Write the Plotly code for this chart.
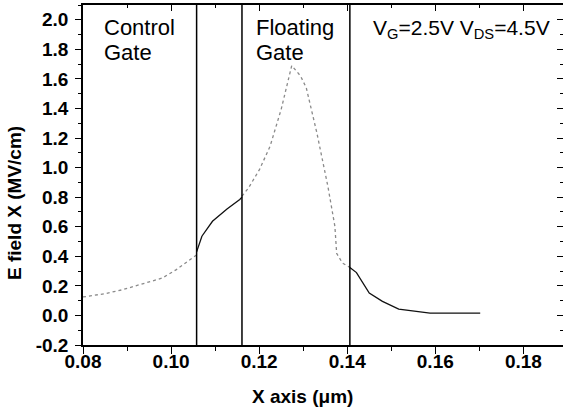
import plotly.graph_objects as go

x_um = [0.0800, 0.0850, 0.0890, 0.0931, 0.0980, 0.1012, 0.1037, 0.1052, 0.1058,
        0.1058, 0.1070, 0.1094, 0.1127, 0.1156, 0.1161,
        0.1161, 0.1176, 0.1201, 0.1225, 0.1250, 0.1274, 0.1294, 0.1307, 0.1331,
        0.1356, 0.1372, 0.1376, 0.1389, 0.1406,
        0.1406, 0.1421, 0.1450, 0.1480, 0.1517, 0.1554, 0.1588, 0.1678, 0.1702]
e_field = [0.125, 0.147, 0.174, 0.208, 0.253, 0.310, 0.366, 0.400, 0.410,
           0.430, 0.536, 0.637, 0.720, 0.784, 0.800,
           0.807, 0.863, 0.988, 1.146, 1.394, 1.690, 1.620, 1.540, 1.236,
           0.875, 0.603, 0.420, 0.355, 0.325,
           0.325, 0.290, 0.151, 0.095, 0.043, 0.027, 0.016, 0.016, 0.016]
segment = [0]*9 + [1]*6 + [2]*14 + [3]*9
boundaries = [0.1058, 0.1161, 0.1406]
seg_styles = {0: ("#8a8a8a", "dot"), 1: ("#111111", "solid"),
              2: ("#8a8a8a", "dot"), 3: ("#111111", "solid")}
x_ticks = [0.08, 0.10, 0.12, 0.14, 0.16, 0.18]
x_ticktext = ["0.08", "0.10", "0.12", "0.14", "0.16", "0.18"]
y_ticks = [-0.2, 0.0, 0.2, 0.4, 0.6, 0.8, 1.0, 1.2, 1.4, 1.6, 1.8, 2.0]
y_ticktext = ["-0.2", "0.0", "0.2", "0.4", "0.6", "0.8", "1.0", "1.2",
              "1.4", "1.6", "1.8", "2.0"]
x_range = [0.08, 0.189]
y_range = [-0.2, 2.1]

W, H, L, R, T, B = 563, 412, 83, 0, 5, 67
pw, ph = W - L - R, H - T - B

fig = go.Figure()
for s in range(4):
    xs = [x for x, g in zip(x_um, segment) if g == s]
    ys = [y for y, g in zip(e_field, segment) if g == s]
    col, dash = seg_styles[s]
    fig.add_trace(go.Scatter(x=xs, y=ys, mode="lines",
                             line=dict(color=col, width=1.3, dash=dash),
                             showlegend=False))

for b in boundaries:
    fig.add_shape(type="line", x0=b, x1=b, y0=0, y1=1, yref="paper",
                  line=dict(color="black", width=1.5))

lab_font = dict(size=22, color="black")
for xv, words in [(0.0843, ["Control", "Gate"]), (0.1188, ["Floating", "Gate"])]:
    fig.add_annotation(x=xv, y=1.945, text=words[0], showarrow=False,
                       xanchor="left", yanchor="middle", font=lab_font)
    fig.add_annotation(x=xv, y=1.776, text=words[1], showarrow=False,
                       xanchor="left", yanchor="middle", font=lab_font)
fig.add_annotation(x=0.1866, y=1.935,
                   text="V<sub>G</sub>=2.5V V<sub>DS</sub>=4.5V", showarrow=False,
                   xanchor="right", yanchor="middle",
                   font=dict(size=21, color="black"))

# axis titles (pixel positions converted to paper coordinates)
fig.add_annotation(x=(302 - L) / pw, y=(H - B - 397) / ph, xref="paper", yref="paper",
                   text="<b>X axis (μm)</b>", showarrow=False,
                   xanchor="center", yanchor="middle",
                   font=dict(size=19, color="black"))
fig.add_annotation(x=(15 - L) / pw, y=(H - B - 203) / ph, xref="paper", yref="paper",
                   text="<b>E field X (MV/cm)</b>", showarrow=False, textangle=-90,
                   xanchor="center", yanchor="middle",
                   font=dict(size=19, color="black"))

tickfont = dict(size=19, family="Liberation Sans, Arial", weight="bold")
common = dict(showgrid=False, zeroline=False, showline=True, linecolor="black",
              linewidth=1.5, tickcolor="black", tickwidth=1.3, automargin=False)
fig.update_layout(
    width=W, height=H,
    margin=dict(l=L, r=R, t=T, b=B, autoexpand=False),
    paper_bgcolor="white", plot_bgcolor="white",
    font=dict(family="Liberation Sans, Arial", color="black"),
    xaxis=dict(range=x_range, tickvals=x_ticks, ticktext=x_ticktext,
               ticks="outside", ticklen=7, ticklabelstandoff=-9,
               minor=dict(ticks="outside", ticklen=4, dtick=0.01, tickcolor="black"),
               tickfont=tickfont, **common),
    yaxis=dict(range=y_range, tickvals=y_ticks, ticktext=y_ticktext,
               ticks="outside", ticklen=6, ticklabelstandoff=3,
               minor=dict(ticks="outside", ticklen=3, dtick=0.1, tickcolor="black"),
               tickfont=tickfont, **common),
    xaxis2=dict(range=x_range, overlaying="x", side="top", tickvals=x_ticks,
                showticklabels=False, ticks="inside", ticklen=6,
                minor=dict(ticks="inside", ticklen=3, dtick=0.01, tickcolor="black"),
                **common),
    yaxis2=dict(range=y_range, overlaying="y", side="right", tickvals=y_ticks,
                showticklabels=False, ticks="inside", ticklen=6,
                minor=dict(ticks="inside", ticklen=3, dtick=0.1, tickcolor="black"),
                **common),
)
fig.add_trace(go.Scatter(x=[x_range[0]], y=[y_range[0]], xaxis="x2", yaxis="y2",
                         mode="markers", marker=dict(opacity=0), showlegend=False,
                         hoverinfo="skip"))

fig.write_html("out.html")
